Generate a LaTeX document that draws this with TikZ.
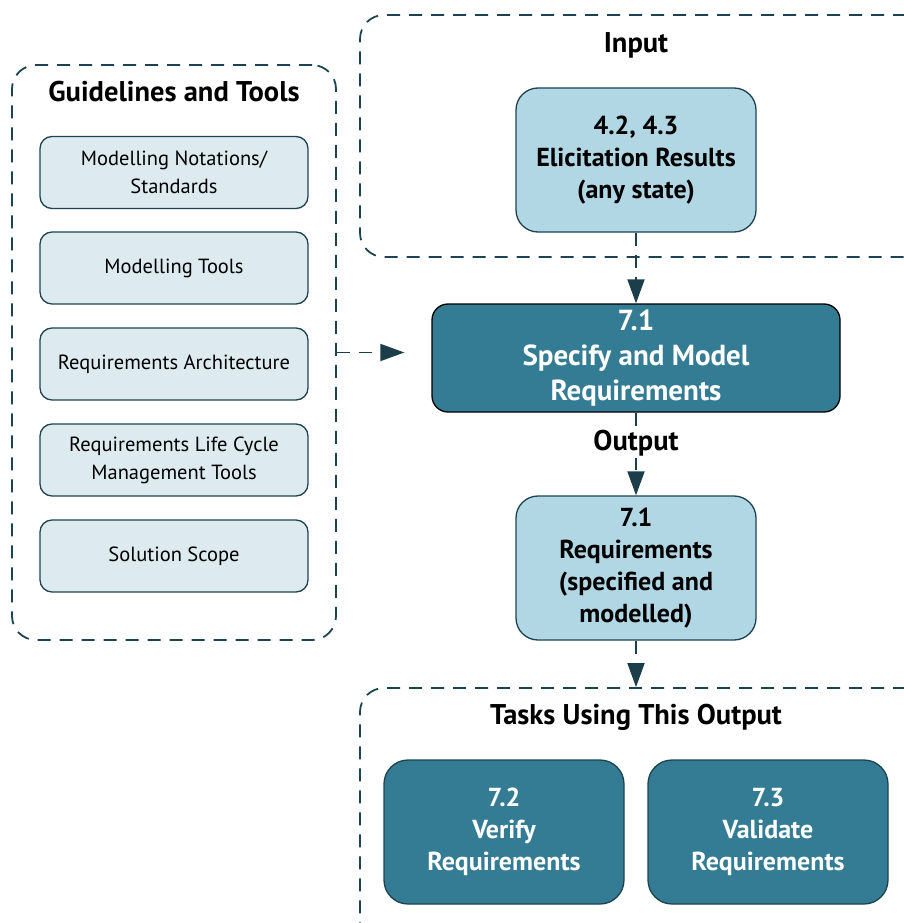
\documentclass[tikz,border=0pt]{standalone}
\usepackage{fontspec}
\setmainfont{PT Sans}
\usepackage{xcolor}
\usetikzlibrary{arrows.meta,positioning}
\definecolor{paleblue}{HTML}{DDEBF0}
\definecolor{midblue}{HTML}{B2D7E4}
\definecolor{tealblue}{HTML}{347C94}
\definecolor{edgeteal}{HTML}{1C4450}
\definecolor{arrowteal}{HTML}{1B3E4A}
\tikzset{
    basebox/.style={draw=edgeteal, line width=1.3pt, align=center, inner sep=0pt},
    toolbox/.style={basebox, fill=paleblue, rounded corners=12pt, minimum width=268pt, minimum height=72pt, font=\fontsize{20.5}{28}\selectfont},
    inbox/.style={basebox, fill=midblue, rounded corners=22pt, minimum width=240pt, minimum height=144pt, font=\bfseries\fontsize{26}{32}\selectfont},
    taskbox/.style={basebox, fill=tealblue, text=white, rounded corners=24pt, minimum width=240pt, minimum height=144pt, font=\bfseries\fontsize{26}{32}\selectfont},
    mainbox/.style={basebox, draw=black, fill=tealblue, text=white, rounded corners=16pt, minimum width=408pt, minimum height=108pt, font=\bfseries\fontsize{29}{35}\selectfont},
    groupbox/.style={draw=edgeteal, line width=1.8pt, dash pattern=on 13pt off 9pt, rounded corners=24pt, inner sep=0pt},
    grouptitle/.style={font=\bfseries\fontsize{28.5}{30}\selectfont, inner sep=2pt},
    flowarrow/.style={draw=arrowteal, line width=1.8pt, dash pattern=on 13pt off 9pt, -{Triangle[length=24pt, width=17pt]}}
}

\begin{document}
\begin{tikzpicture}[x=1pt, y=-1pt]
        \useasboundingbox (0,0) rectangle (904,923);
        \clip (0,0) rectangle (904,923);

        % groups
        \node[groupbox, minimum width=324pt, minimum height=575pt] (guides) at (174,352.5) {};
        \node[groupbox, minimum width=570pt, minimum height=242pt] (inputgrp) at (645,136) {};
        \node[groupbox, minimum width=570pt, minimum height=260pt] (tasksgrp) at (645,818) {};

        \node[grouptitle] (guidestitle) at (174,92) {Guidelines and Tools};
        \node[grouptitle] (inputtitle) at (636,45) {Input};
        \node[grouptitle] (taskstitle) at (636,717) {Tasks Using This Output};

        % guidelines and tools
        \node[toolbox] (notations) at (174,172.5) {Modelling Notations/\\Standards};
        \node[toolbox] (modtools) at (174,268) {Modelling Tools};
        \node[toolbox] (reqarch) at (174,364) {Requirements Architecture};
        \node[toolbox] (lifecycle) at (174,460) {Requirements Life Cycle\\Management Tools};
        \node[toolbox] (scope) at (174,556) {Solution Scope};

        % main flow
        \node[inbox] (elicit) at (636,160) {4.2, 4.3\\Elicitation Results\\(any state)};
        \node[mainbox] (specify) at (636,358) {7.1\\Specify and Model\\Requirements};
        \node[inbox] (reqs) at (636,568) {7.1\\Requirements\\(specified and\\modelled)};

        \node[taskbox] (verify) at (504,832) {7.2\\Verify\\Requirements};
        \node[taskbox] (validate) at (768,832) {7.3\\Validate\\Requirements};

        \draw[flowarrow] (elicit.south) -- (specify.north);
        \draw[flowarrow] (specify.south) -- (reqs.north);
        \draw[flowarrow] (reqs.south) -- (tasksgrp.north -| reqs.south);
        \draw[flowarrow, shorten >=27pt] (guides.east) -- (guides.east -| specify.west);

        \node[grouptitle, fill=white] (outputtitle) at (636,443) {Output};
    \end{tikzpicture}
\end{document}
